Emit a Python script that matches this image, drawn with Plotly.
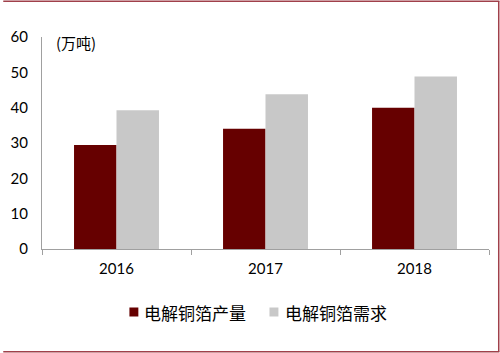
import plotly.graph_objects as go

years = ["2016", "2017", "2018"]
production = [29.4, 34.0, 40.0]
demand = [39.3, 43.8, 48.8]
series_names = ["电解铜箔产量", "电解铜箔需求"]
series_colors = ["#660000", "#c8c8c8"]
y_ticks = [0, 10, 20, 30, 40, 50, 60]
unit_label = "(万吨)"

W, H = 500, 353
L, R, T, B = 39, 11, 37, 104
pw, ph = W - L - R, H - T - B

def px(x):
    return (x - L) / pw

def py(y):
    return (H - B - y) / ph

fig = go.Figure()
fig.add_trace(go.Bar(x=years, y=production, name=series_names[0],
                     marker=dict(color=series_colors[0], line=dict(width=0))))
fig.add_trace(go.Bar(x=years, y=demand, name=series_names[1],
                     marker=dict(color=series_colors[1], line=dict(width=0))))

border = "#a0404a"
shapes = [
    dict(type="line", xref="paper", yref="paper", x0=px(0), x1=px(499.5), y0=py(1.2), y1=py(1.2),
         line=dict(color=border, width=1.5)),
    dict(type="line", xref="paper", yref="paper", x0=px(0), x1=px(499.5), y0=py(351.8), y1=py(351.8),
         line=dict(color=border, width=1.5)),
    dict(type="line", xref="paper", yref="paper", x0=px(498.8), x1=px(498.8), y0=py(1.2), y1=py(351.8),
         line=dict(color=border, width=1.5)),
]

# manual legend (keys + labels)
legend_items = [(127, 140), (268, 282)]
annotations = [dict(text=unit_label, xref="paper", yref="paper", x=px(51), y=py(42),
                    xanchor="left", yanchor="middle", showarrow=False,
                    font=dict(family="Noto Sans CJK SC", size=15, color="#000000"))]
for (kx, tx), name, col in zip(legend_items, series_names, series_colors):
    shapes.append(dict(type="rect", xref="paper", yref="paper",
                       x0=px(kx), x1=px(kx + 9), y0=py(307.5), y1=py(316.5),
                       fillcolor=col, line=dict(width=0)))
    annotations.append(dict(text=name, xref="paper", yref="paper", x=px(tx), y=py(312),
                            xanchor="left", yanchor="middle", showarrow=False,
                            font=dict(family="Noto Sans CJK SC", size=17, color="#000000")))

fig.update_layout(
    width=W, height=H,
    margin=dict(l=L, r=R, t=T, b=B),
    paper_bgcolor="white", plot_bgcolor="white",
    barmode="group", bargap=0.43, bargroupgap=0,
    font=dict(family="Lato, Noto Sans CJK SC", size=15, color="#000000"),
    showlegend=False,
    shapes=shapes,
    annotations=annotations,
)
fig.update_xaxes(showline=True, linecolor="#a0a0a0", linewidth=1,
                 ticks="outside", tickson="boundaries", ticklen=5, tickcolor="#a0a0a0",
                 ticklabelstandoff=6,
                 showgrid=False, tickfont=dict(family="Lato", size=15, color="#000000"))
fig.update_yaxes(range=[0, 60], tickvals=y_ticks, showline=True, linecolor="#a0a0a0", linewidth=1,
                 showgrid=False, zeroline=False, ticks="", ticklabelstandoff=10,
                 tickfont=dict(family="Lato", size=15, color="#000000"))

fig.write_html("out.html")
